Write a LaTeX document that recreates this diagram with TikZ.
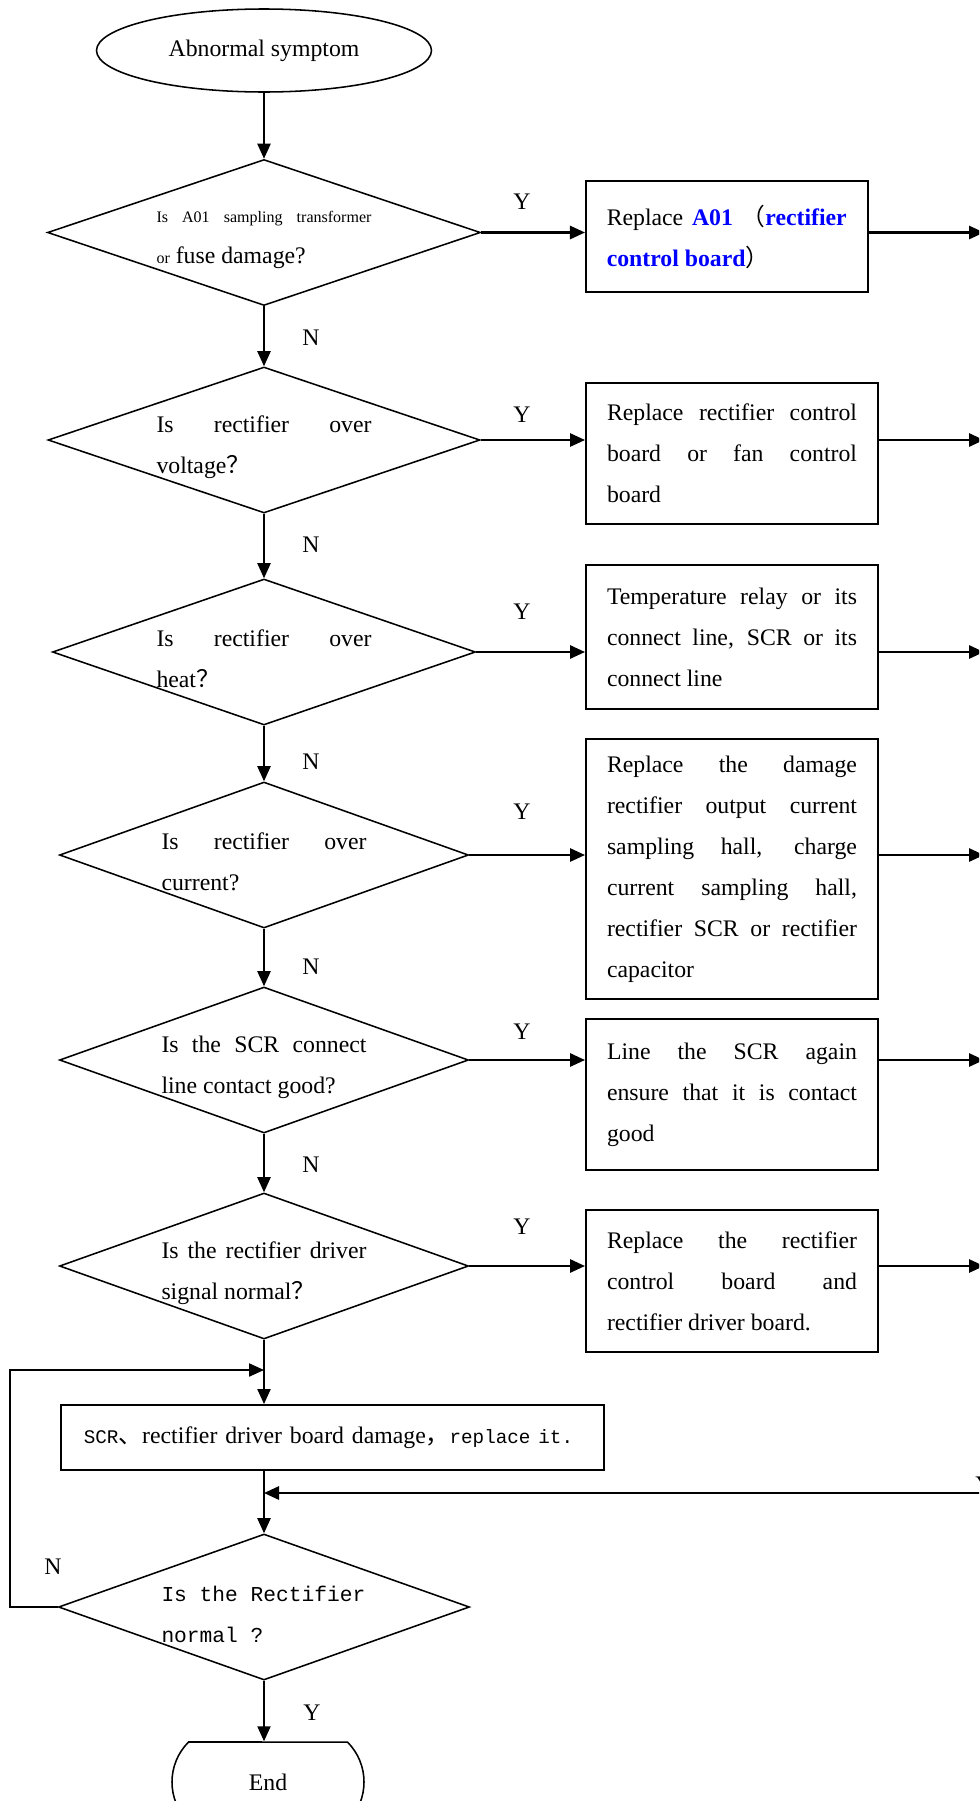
\documentclass[tikz,border=0pt]{standalone}
\usepackage{fontspec}
\setmainfont{Liberation Serif}
\setmonofont{Liberation Mono}
\newfontfamily\cjk{Noto Sans CJK SC}
\usetikzlibrary{arrows.meta,shapes.geometric,shapes.misc,calc}
\definecolor{partblue}{RGB}{0,0,255}
% smaller type for the first question, monospaced type for the last parts
\newcommand{\smallq}{\fontsize{11.4}{29.2}\selectfont}
\newcommand{\simtt}{\ttfamily\fontsize{13.7}{29.2}\selectfont}
\newcommand{\fwq}{{\cjk ？}}

\tikzset{
    % Terminal style (ellipse)
    fstart/.style = {draw, ellipse, line width=1.1pt, inner sep=0, minimum width=8.375cm, minimum height=2.075cm},
    % Terminal style (round sided box)
    fstop/.style = {draw, rounded rectangle, rounded rectangle arc length=90, line width=1.1pt, inner sep=0, minimum width=4.8cm, minimum height=2cm},
    % Decision style (diamond), width given
    fdeci/.style = {draw, diamond, line width=1.1pt, inner sep=0, minimum width=#1, minimum height=3.65cm},
    % Question text over a diamond
    fques/.style = {text width=5.125cm, align=justify, inner sep=0, yshift=-0.175cm},
    % Process style (rectangle), height given
    fact/.style = {draw, line width=1.4pt, text width=6.25cm, align=justify, inner xsep=0.525cm, inner ysep=0, minimum height=#1},
    % Flowchart Connection style (arrows)
    fconc/.style = {line width=1.1pt, -{Triangle[length=0.375cm,width=0.33cm]}},
    fyes/.style = {fconc, line width=1.6pt},
    % Y / N marks
    flabel/.style = {inner sep=0}
}

\begin{document}
\begin{tikzpicture}[font=\fontsize{16.9}{29.2}\selectfont]
\useasboundingbox (0,0) rectangle (24.475,-45.025);
\clip (0,0) rectangle (24.475,-45.025);

% main column
\node [fstart] (start) at (6.6,-1.2625) {Abnormal symptom};
\node [fdeci=10.825cm] (d1) at (6.6,-5.8125) {};
\node [fdeci=10.8cm] (d2) at (6.6,-11.0) {};
\node [fdeci=10.575cm] (d3) at (6.6,-16.3) {};
\node [fdeci=10.225cm] (d4) at (6.6,-21.375) {};
\node [fdeci=10.225cm] (d5) at (6.6,-26.5) {};
\node [fdeci=10.225cm] (d6) at (6.6,-31.65) {};
\node [fdeci=10.275cm] (d7) at (6.6,-40.175) {};
\node [fstop] (stop) at (6.7,-44.55) {End};

% questions
\node [fques, text width=5.375cm] (q1) at (d1) {{\smallq Is A01 sampling transformer}\linebreak{\smallq or} fuse damage?};
\node [fques, text width=5.375cm] (q2) at (d2) {Is rectifier over\linebreak voltage\fwq};
\node [fques, text width=5.375cm] (q3) at (d3) {Is rectifier over\linebreak heat\fwq};
\node [fques] (q4) at (d4) {Is rectifier over\linebreak current?};
\node [fques] (q5) at (d5) {Is the SCR connect\linebreak line contact good?};
\node [fques] (q6) at (d6) {Is the rectifier driver\linebreak signal normal\fwq};
\node [fques] (q7) at (d7) {\ttfamily\fontsize{15.1}{29.9}\selectfont Is the Rectifier\linebreak normal ?};

% actions
\node [fact=2.775cm, text width=6cm, inner xsep=0.52cm] (b1) at (18.169,-5.9125)
  {Replace \textcolor{partblue}{\textbf{A01}} {\cjk （}\textcolor{partblue}{\textbf{rectifier}}\linebreak \textcolor{partblue}{\textbf{control board}}{\cjk ）}};
\node [fact=3.525cm] (b2) at (18.3,-11.3375) {Replace rectifier control\linebreak board or fan control\linebreak board};
\node [fact=3.6cm] (b3) at (18.3,-15.925) {Temperature relay or its\linebreak connect line, SCR or its\linebreak connect line};
\node [fact=6.5cm] (b4) at (18.3,-21.725) {Replace the damage\linebreak rectifier output current\linebreak sampling hall, charge\linebreak current sampling hall,\linebreak rectifier SCR or rectifier\linebreak capacitor};
\node [fact=3.775cm] (b5) at (18.3,-27.3625) {Line the SCR again\linebreak ensure that it is contact\linebreak good};
\node [fact=3.55cm] (b6) at (18.3,-32.025) {Replace the rectifier\linebreak control board and\linebreak rectifier driver board.};
\node [fact=1.625cm, text width=12.425cm, inner xsep=0.58cm, align=left] (b7) at (8.3075,-35.9375)
  {{\simtt SCR}{\cjk 、}rectifier driver board damage{\cjk ，}{\simtt replace it.}};

% connectors
\coordinate (rim) at (24.6,0);
\coordinate (ret) at (25.0,-37.325);
\coordinate (loopin) at (6.6,-34.25);

\draw [fconc] (start.south) -- (d1.north);
\foreach \a/\b in {d1/d2,d2/d3,d3/d4,d4/d5,d5/d6}
  \draw [fconc] (\a.south) -- (\b.north);
\draw [fconc] (d6.south) -- (d6.south |- b7.north);
\draw [fconc] (b7.south -| d7.north) -- (d7.north);
\draw [fconc] (d7.south) -- (d7.south |- stop.north);

\foreach \i in {1,...,6} {
  \draw [fyes] (d\i.east) -- (d\i.east -| b\i.west);
  \draw [fyes] (d\i.east -| b\i.east) -- (d\i.east -| rim);
}
\draw [fyes] (ret) -- (ret -| d7.north);
\draw [fconc] (d7.west) -- ++(-1.2,0) |- (loopin);

% Y / N marks
\foreach \i/\y in {1/-5.05,2/-10.375,3/-15.3,4/-20.3,5/-25.8,6/-30.675}
  \node [flabel] (y\i) at (13.05,\y) {Y};
\foreach \i/\y in {1/-8.45,2/-13.625,3/-19.05,4/-24.175,5/-29.125}
  \node [flabel] (n\i) at (7.775,\y) {N};
\node [flabel] (n6) at (1.325,-39.175) {N};
\node [flabel] (y7) at (7.8,-42.825) {Y};
\node [flabel] (y8) at (24.6,-37.125) {Y};

\end{tikzpicture}
\end{document}
